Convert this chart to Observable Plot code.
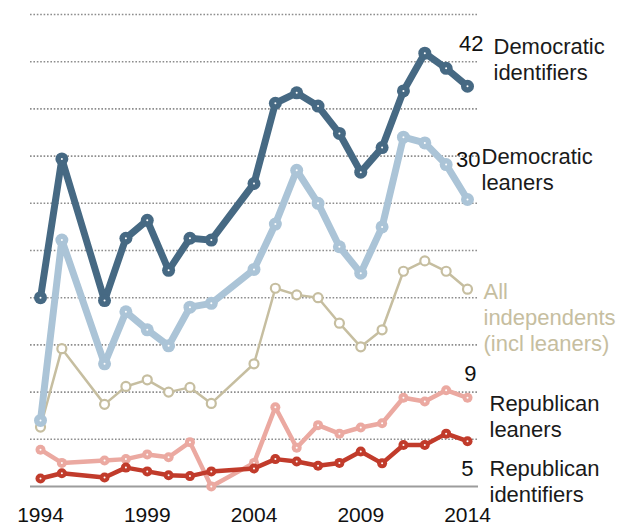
<!DOCTYPE html>
<html><head><meta charset="utf-8">
<script src="https://cdn.jsdelivr.net/npm/d3@7"></script>
<script src="https://cdn.jsdelivr.net/npm/@observablehq/plot@0.6"></script>
<style>body{margin:0;background:#fff} #chart svg{display:block}</style>
</head><body><div id="chart"></div>
<script>
const years = [1994,1995,1997,1998,1999,2000,2001,2002,2004,2005,2006,2007,2008,2009,2010,2011,2012,2013,2014];
const demIdentifiers = [20.0,34.7,19.7,26.3,28.2,22.9,26.3,26.1,32.1,40.6,41.7,40.3,37.4,33.3,35.9,41.9,45.9,44.3,42.4];
const demLeaners     = [7.0,26.1,13.0,18.5,16.6,14.9,19.0,19.4,23.0,27.8,33.5,30.0,25.4,22.6,27.5,37.0,36.4,34.1,30.4];
const allIndependents= [6.3,14.6,8.7,10.6,11.3,10.0,10.5,8.8,13.0,21.0,20.3,20.0,17.3,14.8,16.6,22.8,23.9,22.8,20.9];
const repLeaners     = [3.9,2.5,2.75,2.9,3.4,3.1,4.7,0.0,2.5,8.4,4.1,6.5,5.6,6.25,6.7,9.4,9.0,10.2,9.4];
const repIdentifiers = [0.85,1.4,0.95,2.0,1.6,1.2,1.1,1.6,1.9,2.9,2.65,2.2,2.5,3.7,2.45,4.4,4.4,5.6,4.8];
const tickYears = [1994,1999,2004,2009,2014];
const gridValues = [5,10,15,20,25,30,35,40,45,50];
const seriesNames = ["Democratic identifiers","Democratic leaners","All independents (incl leaners)","Republican leaners","Republican identifiers"];
const endLabels = ["42","30","","9","5"];
const nameLines = [["Democratic","identifiers"],["Democratic","leaners"],["All","independents","(incl leaners)"],["Republican","leaners"],["Republican","identifiers"]];

const seriesValues = [demIdentifiers, demLeaners, allIndependents, repLeaners, repIdentifiers];
const styles = [
  {color:"#466983", width:7,   r:6.5, hollow:false, valDx:16, valDy:-50.6, nameDx:26, nameDy:-50.6, labelColor:"#1a1a1a"},
  {color:"#abc4d7", width:7,   r:6.5, hollow:false, valDx:13, valDy:-48,   nameDx:14, nameDy:-53.6, labelColor:"#1a1a1a"},
  {color:"#c6bea0", width:2.5, r:4.5, hollow:true,  valDx:16, valDy:0,     nameDx:16, nameDy:-8.7,  labelColor:"#c6bea0"},
  {color:"#eba9a1", width:4.5, r:5,   hollow:false, valDx:9,  valDy:-32,   nameDx:22, nameDy:-5,    labelColor:"#1a1a1a"},
  {color:"#c13b2b", width:4.5, r:5,   hollow:false, valDx:6,  valDy:19,    nameDx:22, nameDy:16,    labelColor:"#1a1a1a"}
];

const series = seriesNames.map((name, i) => ({
  name,
  rows: years.map((year, j) => ({year, value: seriesValues[i][j], series: name})),
  style: styles[i],
  endLabel: endLabels[i],
  lines: nameLines[i]
}));

const drawOrder = [2, 1, 0, 3, 4];
const marks = [
  Plot.ruleY(gridValues, {stroke:"#8d8d8d", strokeWidth:1.6, strokeDasharray:"1.6,1.8"}),
  Plot.ruleY([0], {stroke:"#9c9c9c", strokeWidth:2}),
  Plot.axisX(tickYears, {tickSize:0, tickPadding:21, fontSize:21, label:null, tickFormat: d => String(d), fill:"#111"})
];
for (const i of drawOrder) {
  const s = series[i], st = s.style;
  marks.push(Plot.line(s.rows, {x:"year", y:"value", stroke:st.color, strokeWidth:st.width, strokeLinejoin:"round", strokeLinecap:"round"}));
  if (st.hollow) {
    marks.push(Plot.dot(s.rows, {x:"year", y:"value", r:st.r, fill:"white", stroke:st.color, strokeWidth:2.2}));
  } else {
    marks.push(Plot.dot(s.rows, {x:"year", y:"value", r:st.r, fill:st.color}));
    marks.push(Plot.dot(s.rows, {x:"year", y:"value", r:1, fill:"white"}));
  }
}
for (const s of series) {
  const st = s.style;
  const last = s.rows[s.rows.length - 1];
  if (s.endLabel) {
    marks.push(Plot.text([last], {x:"year", y:"value", text: () => s.endLabel, textAnchor:"end", lineAnchor:"top", dx:st.valDx, dy:st.valDy, fontSize:22, fill:"#111"}));
  }
  marks.push(Plot.text([last], {x:"year", y:"value", text: () => s.lines.join("\n"), textAnchor:"start", lineAnchor:"top", lineHeight:1.18, dx:st.nameDx, dy:st.nameDy, fontSize:22, fill:st.labelColor}));
}

const chart = Plot.plot({
  width: 625,
  height: 527,
  marginLeft: 30,
  marginRight: 147,
  marginTop: 14,
  marginBottom: 41,
  style: {fontFamily: "'Liberation Sans', Arial, sans-serif", fontSize: "22px", background: "white", overflow: "visible"},
  x: {domain: [1994, 2014], insetLeft: 10, insetRight: 11, label: null},
  y: {domain: [0, 50], axis: null},
  marks
});
document.getElementById("chart").appendChild(chart);
</script>
</body></html>
